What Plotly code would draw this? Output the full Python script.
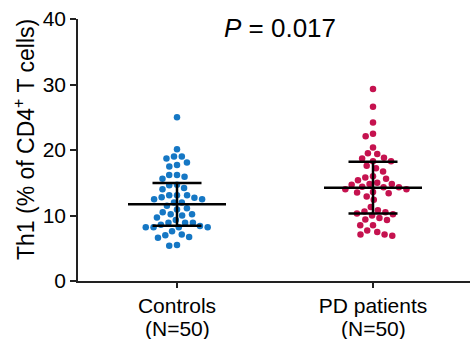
import numpy as np
import plotly.graph_objects as go

categories = ["Controls", "PD patients"]
group_sizes = ["(N=50)", "(N=50)"]
controls = [25.0, 20.1, 19.0, 18.7, 19.0, 18.1, 17.5, 17.7, 16.2, 15.9, 15.6, 16.2,
            14.6, 14.0, 14.2, 14.7, 13.1, 12.8, 12.5, 12.0, 12.5, 12.7, 13.1, 13.1, 12.0,
            11.5, 10.9, 11.1, 10.5, 10.2, 10.0, 10.2, 9.7,
            8.9, 8.9, 8.4, 8.2, 8.2, 8.2, 8.2, 8.6, 8.9, 9.3,
            7.6, 7.0, 6.7, 7.1, 6.6, 5.4, 5.5]
pd_patients = [29.3, 26.6, 24.2, 22.1, 22.5, 20.4, 19.5, 19.4,
               18.8, 18.3, 18.3, 18.7, 17.2, 16.7, 17.6,
               15.8, 15.4, 15.6, 16.0,
               14.8, 14.4, 14.3, 14.7, 14.0, 14.3, 14.8, 15.0, 14.0,
               13.6, 13.4, 12.9, 13.5, 12.4, 11.3,
               10.6, 10.3, 10.0, 10.2, 10.5, 10.8,
               9.4, 9.3, 9.6, 8.5, 8.5, 7.7, 7.5, 7.1, 6.9, 7.1]
means = [11.7, 14.25]
sds = [3.25, 3.95]
colors = ["#1577c4", "#c5124f"]
y_ticks = [0, 10, 20, 30, 40]

FONT = "Arial, Liberation Sans, sans-serif"
PX_X = 196.0   # pixels per category unit
PX_Y = 6.55    # pixels per y unit


def swarm(vals, d=7.8):
    vals = np.asarray(vals, dtype=float)
    xs = np.zeros(len(vals))
    placed = []
    for i in np.argsort(-vals, kind="stable"):
        y = vals[i] * PX_Y
        cands = [0.0]
        for px_, py_ in placed:
            dy = y - py_
            if abs(dy) < d:
                dx = np.sqrt(d * d - dy * dy)
                cands += [px_ + dx, px_ - dx]
        cands.sort(key=lambda c: (abs(c), c))
        for c in cands:
            if all((c - px_) ** 2 + (y - py_) ** 2 >= d * d - 1e-6 for px_, py_ in placed):
                xs[i] = c
                break
        placed.append((xs[i], y))
    return xs / PX_X


fig = go.Figure()
for gi, vals in enumerate([controls, pd_patients]):
    off = swarm(vals)
    fig.add_trace(go.Scatter(
        x=gi + off, y=vals, mode="markers",
        marker=dict(size=6.5, color=colors[gi], line=dict(width=0)),
        showlegend=False, hoverinfo="y"))

# mean and SD bars
for gi in range(2):
    m, s = means[gi], sds[gi]
    xs = [gi - 0.25, gi + 0.25, None,
          gi - 0.125, gi + 0.125, None,
          gi - 0.125, gi + 0.125, None,
          gi, gi]
    ys = [m, m, None, m + s, m + s, None, m - s, m - s, None, m - s, m + s]
    fig.add_trace(go.Scatter(x=xs, y=ys, mode="lines",
                             line=dict(color="black", width=2.5),
                             showlegend=False, hoverinfo="skip"))

L, T, B, W, H = 78, 19, 58, 470, 339
plot_w = W - L
plot_h = H - T - B
annotations = [
    dict(text="Th1 (% of CD4<sup>+</sup> T cells)", textangle=-90,
         xref="paper", yref="paper",
         x=(24 - L) / plot_w, y=(plot_h - 140 + T) / plot_h,
         xanchor="center", yanchor="middle", showarrow=False,
         font=dict(size=23, family=FONT, color="black")),
    dict(text="<i>P</i> = 0.017", xref="paper", yref="paper",
         x=(280 - L) / plot_w, y=(plot_h - 28 + T) / plot_h,
         xanchor="center", yanchor="middle", showarrow=False,
         font=dict(size=26, family=FONT, color="black")),
]
for gi, lab in enumerate(group_sizes):
    annotations.append(dict(
        text=lab, xref="x", yref="paper", x=gi, y=-(328 - (H - B)) / plot_h,
        xanchor="center", yanchor="middle", showarrow=False,
        font=dict(size=21, family=FONT, color="black")))

fig.update_layout(
    width=W, height=H,
    margin=dict(l=L, r=0, t=T, b=B, autoexpand=False),
    paper_bgcolor="white", plot_bgcolor="white",
    font=dict(family=FONT, size=21, color="black"),
    xaxis=dict(
        range=[-99 / PX_X, -99 / PX_X + plot_w / PX_X],
        tickmode="array", tickvals=[0, 1], ticktext=categories,
        showline=True, linecolor="#222", linewidth=1.5,
        ticks="outside", ticklen=5, tickwidth=1.5, tickcolor="#222",
        showgrid=False, zeroline=False, automargin=False,
        tickfont=dict(size=21, family=FONT, color="black")),
    yaxis=dict(
        range=[0, 40], tickvals=y_ticks,
        showline=True, linecolor="#222", linewidth=1.5,
        ticks="outside", ticklen=6, tickwidth=1.5, tickcolor="#222",
        showgrid=False, zeroline=False, automargin=False,
        tickfont=dict(size=21, family=FONT, color="black")),
    annotations=annotations,
)

fig.write_html("out.html")
